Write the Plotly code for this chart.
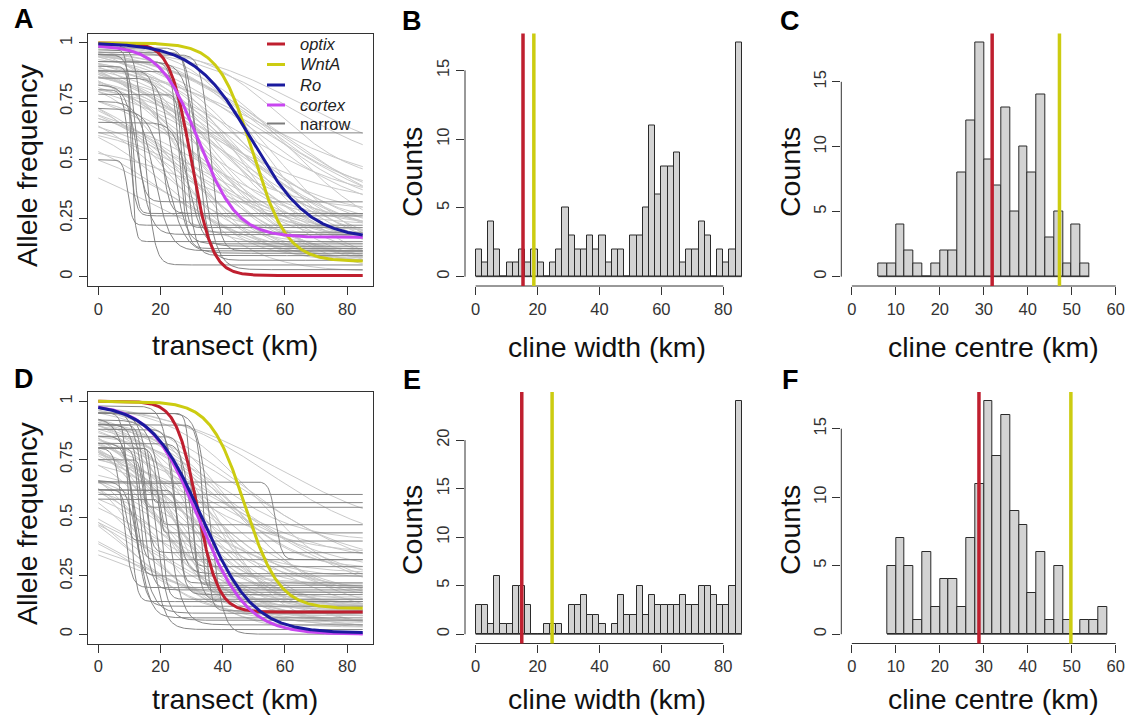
import numpy as np
import plotly.graph_objects as go

W, H = 1131, 718
FONT = "Liberation Sans, Arial, sans-serif"

# ------------------------------------------------------------------ data
transect_km = np.arange(0, 85.001, 0.25)          # sampling grid for cline curves

genes = ["optix", "WntA", "Ro", "cortex"]
gene_colors = {"optix": "#bf1f2f", "WntA": "#cccc11", "Ro": "#1a1a9e", "cortex": "#c846f0"}

# highlighted clines (panel A): centre, width, left tail, right tail
a_gene_centre = [29.8, 49.6, 49.5, 32.3]
a_gene_width = [13.5, 22.0, 37.0, 25.0]
a_gene_left = [1.0, 1.0, 1.0, 0.99]
a_gene_right = [0.005, 0.065, 0.16, 0.168]
# highlighted clines (panel D)
d_gene_centre = [31.8, 47.1, 33.4, 32.3]
d_gene_width = [13.5, 22.0, 33.0, 31.0]
d_gene_left = [1.0, 1.0, 0.99, 0.99]
d_gene_right = [0.095, 0.11, 0.005, 0.0]

# background clines panel A (light grey)
a_bg_centre = [35, 40, 30, 45, 38, 50, 55, 42, 28, 33, 25, 48, 60, 36, 30, 44, 52, 58, 40, 27,
               31, 22, 35, 46, 54, 39, 33, 29, 43, 62, 20, 26, 15, 37, 41, 49, 56, 34, 24, 47,
               53, 65, 38, 32, 28, 45, 51, 36, 42, 30, 57, 44, 23, 19, 35, 40, 48, 27, 61, 50]
a_bg_width = [60, 70, 55, 80, 65, 75, 70, 60, 45, 50, 40, 90, 85, 58, 62, 66, 60, 50, 85, 35,
              48, 55, 75, 58, 66, 52, 70, 80, 95, 70, 60, 70, 65, 42, 46, 54, 58, 38, 50, 72,
              80, 75, 90, 66, 58, 48, 44, 84, 55, 40, 90, 62, 44, 48, 52, 78, 66, 64, 62, 100]
a_bg_left = [0.98, 0.95, 0.97, 0.99, 0.92, 1.00, 0.98, 0.90, 0.95, 0.88, 0.85, 0.97, 1.00, 0.80, 0.78,
             0.93, 0.96, 0.99, 0.86, 0.90, 0.72, 0.70, 0.75, 0.94, 0.97, 0.98, 0.96, 0.88, 0.99, 0.99,
             0.65, 0.60, 0.55, 0.84, 0.91, 0.95, 0.98, 0.93, 0.82, 0.89, 0.92, 1.00, 0.74, 0.68, 0.76,
             0.97, 0.99, 0.90, 0.87, 0.99, 0.96, 0.83, 0.78, 0.74, 0.64, 0.58, 0.99, 0.94, 0.97, 0.90]
a_bg_right = [0.05, 0.10, 0.08, 0.15, 0.20, 0.25, 0.30, 0.12, 0.06, 0.10, 0.08, 0.05, 0.20, 0.15, 0.05,
              0.18, 0.35, 0.40, 0.02, 0.12, 0.10, 0.08, 0.20, 0.22, 0.28, 0.14, 0.03, 0.04, 0.10, 0.45,
              0.10, 0.05, 0.10, 0.16, 0.24, 0.12, 0.08, 0.26, 0.02, 0.32, 0.38, 0.48, 0.10, 0.18, 0.22,
              0.06, 0.16, 0.30, 0.02, 0.20, 0.22, 0.26, 0.14, 0.18, 0.06, 0.12, 0.02, 0.28, 0.14, 0.00]
# narrow clines panel A (dark grey)
a_nw_centre = [10.5, 11, 10, 12, 9.5, 0, 26, 28, 30, 24, 27, 32, 18, 15, 22, 33, 29, 20, 13, 36]
a_nw_width = [2.5, 3, 4, 5, 3, 1, 5, 6, 4, 8, 3, 7, 10, 6, 12, 10, 9, 5, 8, 6]
a_nw_left = [0.97, 0.90, 0.80, 0.95, 0.50, 0.615, 0.92, 0.88, 0.96, 0.85, 0.78, 0.98, 0.75, 0.99,
             0.72, 0.92, 0.66, 0.88, 0.82, 0.95]
a_nw_right = [0.15, 0.27, 0.26, 0.32, 0.22, 0.615, 0.12, 0.09, 0.19, 0.14, 0.21, 0.07, 0.11, 0.05,
              0.10, 0.03, 0.13, 0.27, 0.18, 0.11]

# background clines panel D (light grey)
d_bg_centre = [25, 30, 20, 35, 28, 22, 18, 40, 33, 15, 26, 38, 45, 24, 31, 12, 20, 10, 36, 42,
               27, 29, 34, 17, 21, 48, 55, 38, 23, 14, 8, 30, 26, 44, 19, 32, 25, 40, 16, 35,
               22, 28, 50, 12, 33, 20, 27, 37, 45, 24, 9, 31, 42, 18, 29, 36, 15, 39, 58, 23]
d_bg_width = [50, 60, 45, 70, 55, 40, 50, 80, 65, 45, 75, 60, 70, 35, 42, 40, 70, 60, 55, 50,
              30, 85, 48, 36, 58, 90, 70, 40, 62, 52, 70, 36, 46, 60, 28, 52, 66, 45, 60, 80,
              48, 38, 55, 30, 90, 55, 70, 66, 100, 26, 45, 60, 75, 42, 50, 34, 80, 52, 80, 70]
d_bg_left = [0.95, 0.92, 0.90, 0.97, 0.85, 0.80, 0.75, 0.99, 0.88, 0.70, 0.78, 0.93, 1.00, 0.86, 0.90,
             0.60, 0.62, 0.55, 0.97, 0.99, 0.94, 0.82, 0.76, 0.88, 0.92, 1.00, 1.00, 0.98, 0.68, 0.50,
             0.48, 0.86, 0.98, 0.95, 0.83, 0.72, 0.74, 0.91, 0.66, 0.90, 0.96, 0.79, 0.99, 0.72, 0.95,
             0.58, 0.88, 0.84, 0.96, 0.93, 0.62, 0.99, 0.80, 0.77, 0.66, 0.92, 0.70, 0.87, 1.00, 0.45]
d_bg_right = [0.05, 0.10, 0.08, 0.15, 0.12, 0.06, 0.10, 0.20, 0.02, 0.05, 0.18, 0.25, 0.30, 0.14, 0.20,
              0.08, 0.04, 0.10, 0.08, 0.16, 0.22, 0.00, 0.12, 0.18, 0.26, 0.22, 0.38, 0.03, 0.14, 0.06,
              0.12, 0.06, 0.12, 0.10, 0.16, 0.24, 0.02, 0.28, 0.20, 0.30, 0.10, 0.04, 0.20, 0.15, 0.05,
              0.00, 0.34, 0.14, 0.10, 0.08, 0.12, 0.18, 0.26, 0.03, 0.10, 0.12, 0.06, 0.40, 0.42, 0.02]
# narrow clines panel D (dark grey)
d_nw_centre = [0, 57, 16.8, 14, 20, 20, 15, 13, 28, 11, 30, 14, 25, 10, 12, 34, 18, 22, 16, 36,
               8, 26, 30, 13, 20, 33, 9, 12, 24]
d_nw_width = [1, 4, 1.5, 2, 1.5, 1.5, 4, 3, 4, 5, 3, 6, 5, 4, 6, 4, 8, 10, 9, 8,
              5, 3, 6, 8, 4, 3, 3, 10, 7]
d_nw_left = [0.60, 0.655, 0.80, 0.75, 0.62, 0.58, 0.90, 0.80, 0.85, 0.85, 0.95, 0.90, 0.88, 0.95, 0.82,
             0.90, 0.95, 0.92, 0.97, 0.95, 0.80, 0.62, 0.82, 0.66, 0.80, 0.65, 0.62, 0.93, 0.98]
d_nw_right = [0.60, 0.32, 0.565, 0.545, 0.47, 0.435, 0.35, 0.32, 0.29, 0.25, 0.21, 0.19, 0.17, 0.14, 0.12,
              0.10, 0.06, 0.04, 0.02, 0.00, 0.20, 0.22, 0.14, 0.07, 0.15, 0.18, 0.40, 0.09, 0.26]

# histograms: counts per 2-km bin
width_bins_lo = list(range(0, 86, 2))              # 0..84 (cline width, panels B and E)
b_counts = [2, 1, 4, 2, 0, 1, 1, 2, 1, 2, 1, 0, 1, 2, 5, 3, 2, 2, 3, 2, 3, 1,
            2, 2, 0, 3, 3, 5, 11, 6, 8, 8, 9, 1, 2, 2, 4, 3, 0, 2, 1, 2, 17]
e_counts = [3, 3, 1, 6, 1, 1, 5, 5, 3, 0, 0, 1, 1, 1, 0, 3, 3, 4, 2, 2, 1, 0,
            1, 4, 2, 2, 5, 2, 4, 3, 3, 3, 3, 4, 3, 3, 5, 5, 4, 3, 3, 5, 24]
c_bins_lo = list(range(6, 54, 2))                  # cline centre, panel C
c_counts = [1, 1, 4, 2, 1, 0, 1, 2, 2, 8, 12, 18, 9, 7, 13, 5, 10, 8, 14, 3, 5, 1, 4, 1]
f_bins_lo = list(range(8, 58, 2))                  # cline centre, panel F
f_counts = [5, 7, 5, 1, 6, 2, 4, 4, 2, 7, 11, 17, 13, 16, 9, 8, 3, 6, 1, 5, 1, 0, 1, 1, 2]
bin_width = 2

# marker lines (optix, WntA)
b_marks = [15.3, 18.8]
c_marks = [31.9, 47.2]
e_marks = [14.9, 24.7]
f_marks = [28.9, 49.8]
mark_genes = ["optix", "WntA"]

# ------------------------------------------------------------------ helpers
def px(x):
    return x / W

def py(y):
    return 1 - y / H

def cline(c, w, left, right):
    return right + (left - right) / (1 + np.exp(4 * (transect_km - c) / w))

def cline_trace(cs, ws, ls, rs, color, width, ax):
    xs, ys = [], []
    for c, w, l, r in zip(cs, ws, ls, rs):
        xs.extend(transect_km.tolist() + [None])
        ys.extend(cline(c, w, l, r).tolist() + [None])
    return go.Scatter(x=xs, y=ys, mode="lines", line=dict(color=color, width=width),
                      hoverinfo="skip", showlegend=False, xaxis="x" + ax, yaxis="y" + ax)

fig = go.Figure()

# domains (pixels measured from reference)
col_x = [(87.7, 373.3), (465.0, 752.5), (841.3, 1126.3)]
row_y = [(33.5, 286.0), (392.0, 643.5)]

panels = {"": (0, 0), "2": (1, 0), "3": (2, 0), "4": (0, 1), "5": (1, 1), "6": (2, 1)}

# ----- cline panels
for ax, cen, wid, lef, rig, gc, gw, gl, gr in [
        ("", a_bg_centre, a_bg_width, a_bg_left, a_bg_right,
         (a_gene_centre, a_nw_centre), (a_gene_width, a_nw_width), (a_gene_left, a_nw_left), (a_gene_right, a_nw_right)),
        ("4", d_bg_centre, d_bg_width, d_bg_left, d_bg_right,
         (d_gene_centre, d_nw_centre), (d_gene_width, d_nw_width), (d_gene_left, d_nw_left), (d_gene_right, d_nw_right))]:
    fig.add_trace(cline_trace(cen, wid, lef, rig, "rgba(198,198,198,0.95)", 1.0, ax))
    fig.add_trace(cline_trace(gc[1], gw[1], gl[1], gr[1], "rgba(128,128,128,0.95)", 1.0, ax))
    order = [0, 1, 3, 2]   # optix, WntA, cortex, Ro
    for i in order:
        g = genes[i]
        fig.add_trace(go.Scatter(x=transect_km, y=cline(gc[0][i], gw[0][i], gl[0][i], gr[0][i]),
                                 mode="lines", line=dict(color=gene_colors[g], width=3),
                                 name=g, showlegend=False, hoverinfo="skip",
                                 xaxis="x" + ax, yaxis="y" + ax))

# ----- histograms
hist_specs = [("2", width_bins_lo, b_counts, b_marks, [0, 20, 40, 60, 80], [0, 5, 10, 15], [-3.44, 89.44], [-0.68, 17.68], 80, 15),
              ("3", c_bins_lo, c_counts, c_marks, [0, 10, 20, 30, 40, 50, 60], [0, 5, 10, 15], [-2.4, 62.4], [-0.72, 18.72], 60, 15),
              ("5", width_bins_lo, e_counts, e_marks, [0, 20, 40, 60, 80], [0, 5, 10, 15, 20], [-3.44, 89.44], [-0.96, 24.96], 80, 20),
              ("6", f_bins_lo, f_counts, f_marks, [0, 10, 20, 30, 40, 50, 60], [0, 5, 10, 15], [-2.4, 62.4], [-0.68, 17.68], 60, 15)]

shapes = []
axis_col = "#333333"
tickfont = dict(family=FONT, size=16.5, color="#333333")

for ax, lo, counts, marks, xt, yt, xr, yr, xmax, ymax in hist_specs:
    centres = [v + bin_width / 2 for v in lo]
    fig.add_trace(go.Bar(x=centres, y=counts, width=bin_width,
                         marker=dict(color="#d3d3d3", line=dict(color="#2a2a2a", width=1)),
                         showlegend=False, hoverinfo="skip", xaxis="x" + ax, yaxis="y" + ax))
    # baseline under the bars
    shapes.append(dict(type="line", xref="x" + ax, yref="y" + ax, x0=lo[0], x1=lo[-1] + bin_width,
                       y0=0, y1=0, line=dict(color="#2a2a2a", width=1)))
    # R style detached axes
    shapes.append(dict(type="line", xref="x" + ax, yref="y" + ax + " domain", x0=xt[0], x1=xt[-1],
                       y0=0, y1=0, line=dict(color=axis_col, width=1)))
    shapes.append(dict(type="line", xref="x" + ax + " domain", yref="y" + ax, x0=0, x1=0,
                       y0=yt[0], y1=yt[-1], line=dict(color=axis_col, width=1)))
    for g, m in zip(mark_genes, marks):
        shapes.append(dict(type="line", xref="x" + ax, yref="y" + ax + " domain", x0=m, x1=m,
                           y0=0, y1=1, line=dict(color=gene_colors[g], width=3.5)))

# ----- axes layout
layout_axes = {}
for ax, (ci, ri) in panels.items():
    xd = [px(col_x[ci][0]), px(col_x[ci][1])]
    yd = [py(row_y[ri][1]), py(row_y[ri][0])]
    xname = "xaxis" + ax
    yname = "yaxis" + ax
    is_cline = ax in ("", "4")
    common = dict(ticks="outside", ticklen=8, tickwidth=1, tickcolor=axis_col, tickfont=tickfont,
                  showgrid=False, zeroline=False, fixedrange=True)
    if is_cline:
        layout_axes[xname] = dict(domain=xd, range=[-3.4, 88.4], tickvals=[0, 20, 40, 60, 80],
                                  showline=True, mirror=True, linecolor=axis_col, linewidth=1,
                                  anchor="y" + ax, **common)
        layout_axes[yname] = dict(domain=yd, range=[-0.04, 1.04], tickvals=[0, 0.25, 0.5, 0.75, 1],
                                  ticktext=["0", "0.25", "0.5", "0.75", "1"], tickangle=-90,
                                  showline=True, mirror=True, linecolor=axis_col, linewidth=1,
                                  anchor="x" + ax, **common)
    else:
        spec = [s for s in hist_specs if s[0] == ax][0]
        layout_axes[xname] = dict(domain=xd, range=spec[6], tickvals=spec[4], showline=False,
                                  anchor="y" + ax, **common)
        layout_axes[yname] = dict(domain=yd, range=spec[7], tickvals=spec[5], tickangle=-90,
                                  showline=False, anchor="x" + ax, **common)

# ----- text annotations
ann = []
def text(x, y, s, size, angle=0, bold=False, color="#111111", xanchor="center"):
    ann.append(dict(x=px(x), y=py(y), xref="paper", yref="paper", text=("<b>%s</b>" % s) if bold else s,
                    showarrow=False, textangle=angle, xanchor=xanchor, yanchor="middle",
                    font=dict(family=FONT, size=size, color=color)))

for lab, x, y in [("A", 24, 19), ("B", 412, 21), ("C", 790, 21), ("D", 24, 379), ("E", 412, 380), ("F", 790, 380)]:
    text(x, y, lab, 27, bold=True, color="#000000")

text(27, 165, "Allele frequency", 28.5, angle=-90)
text(27, 523, "Allele frequency", 28.5, angle=-90)
text(235, 345, "transect (km)", 28.5)
text(235, 699, "transect (km)", 28.5)
text(412, 172, "Counts", 28.5, angle=-90)
text(412, 530, "Counts", 28.5, angle=-90)
text(790, 172, "Counts", 28.5, angle=-90)
text(790, 530, "Counts", 28.5, angle=-90)
text(607, 347, "cline width (km)", 28.5)
text(607, 699, "cline width (km)", 28.5)
text(993, 347, "cline centre (km)", 28.5)
text(993, 699, "cline centre (km)", 28.5)

# legend in panel A
legend_items = [("optix", True), ("WntA", True), ("Ro", True), ("cortex", True), ("narrow", False)]
leg_y = [44, 64.5, 85, 105, 123.5]
for (lab, ital), yy in zip(legend_items, leg_y):
    col = gene_colors.get(lab, "#7d7d7d")
    shapes.append(dict(type="line", xref="paper", yref="paper", x0=px(267), x1=px(285),
                       y0=py(yy), y1=py(yy), line=dict(color=col, width=3 if ital else 2)))
    text(297.5, yy, ("<i>%s</i>" % lab) if ital else lab, 16.5, color="#222222", xanchor="left")

fig.update_layout(width=W, height=H, margin=dict(l=0, r=0, t=0, b=0),
                  paper_bgcolor="white", plot_bgcolor="white", bargap=0,
                  shapes=shapes, annotations=ann, showlegend=False, **layout_axes)

fig.write_html("out.html")
